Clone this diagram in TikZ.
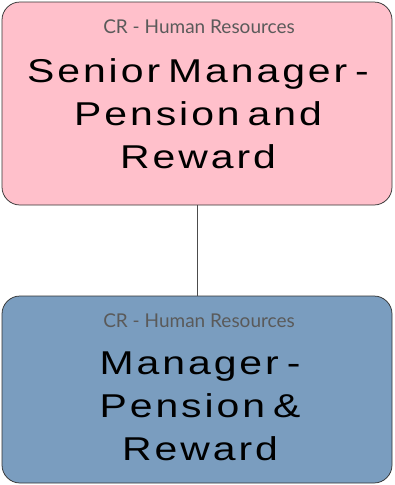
\documentclass[tikz,border=0pt]{standalone}
\usepackage{fontspec}
\setmainfont{Liberation Sans}
\newfontfamily\deptfont{Lato}
\newfontfamily\rolefont[FakeStretch=1.24,LetterSpace=9,WordSpace=0.55]{Liberation Sans}

\definecolor{seniorpink}{RGB}{255,192,203}
\definecolor{managerblue}{RGB}{122,157,191}
\definecolor{deptgray}{RGB}{90,90,90}

\tikzset{every picture/.style={line width=0.75pt}}
\tikzset{
  orgbox/.style={draw=black!80, rounded corners=18pt, minimum width=390pt, inner sep=0pt},
  deptlabel/.style={text=deptgray, font=\deptfont\fontsize{19}{22}\selectfont, inner sep=0pt},
  roletext/.style={align=center, font=\rolefont\fontsize{33}{43}\selectfont, inner sep=0pt},
  orglink/.style={draw=black!70, line width=0.9pt}
}

\begin{document}
\begin{tikzpicture}[x=1pt,y=-1pt]
        \useasboundingbox (0,0) rectangle (394,485);
        \node [orgbox, fill=seniorpink, minimum height=203pt] (senior) at (197,103.5) {};
        \node [orgbox, fill=managerblue, minimum height=187pt] (manager) at (197,389.5) {};
        \draw [orglink] (senior.south) -- (manager.north);
        \node [deptlabel] (seniordept) at (199,27) {CR - Human Resources};
        \node [roletext] (seniorrole) at (198,114) {Senior Manager -\\Pension and\\Reward};
        \node [deptlabel] (managerdept) at (199,321) {CR - Human Resources};
        \node [roletext] (managerrole) at (200,406) {Manager -\\Pension \&\\Reward};
    \end{tikzpicture}
\end{document}
